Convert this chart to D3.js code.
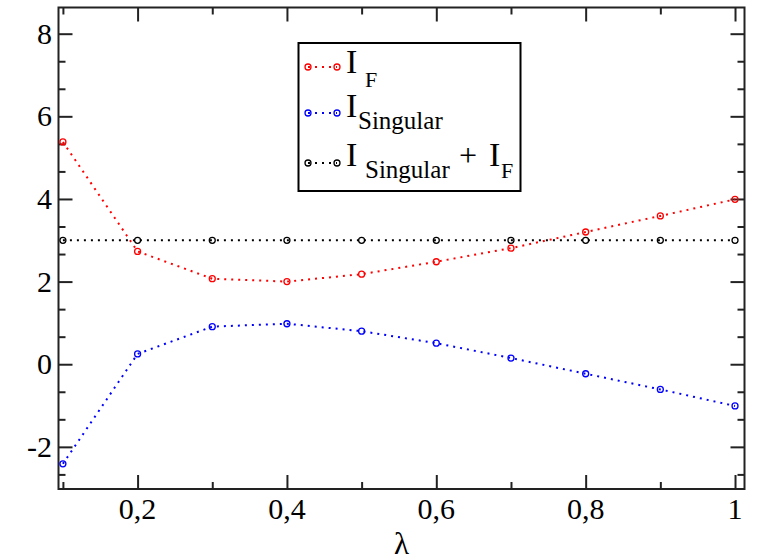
<!DOCTYPE html>
<html>
<head>
<meta charset="utf-8">
<script src="https://cdn.jsdelivr.net/npm/d3@7"></script>
<style>
  body { margin: 0; background: #fff; }
</style>
</head>
<body>
<script>
  // values
  let lambda = [0.1, 0.2, 0.3, 0.4, 0.5, 0.6, 0.7, 0.8, 0.9, 1.0];
  let iF = [5.38, 2.73, 2.07, 2.0, 2.18, 2.48, 2.81, 3.2, 3.59, 3.99];
  let iSingular = [-2.41, 0.25, 0.91, 0.98, 0.8, 0.51, 0.15, -0.23, -0.61, -1.01];
  let iSum = [3, 3, 3, 3, 3, 3, 3, 3, 3, 3];

  let xMajor = [0.2, 0.4, 0.6, 0.8, 1.0];
  let xMinor = [0.1, 0.3, 0.5, 0.7, 0.9];
  let yMajor = [-2, 0, 2, 4, 6, 8];

  let width = 761;
  let height = 560;
  let padL = 58.5, padR = 744.5, padT = 7.5, padB = 489;
  let serif = "'Liberation Serif', serif";

  let x = d3.scaleLinear([0.0941, 1.0127], [padL, padR]);
  let y = d3.scaleLinear([-3.02, 8.634], [padB, padT]);

  // minor y ticks split each major step in three
  let yMinor = [];
  yMajor.concat([10]).forEach(v => {
    [v - 4/3, v - 2/3].forEach(m => {
      if (m > y.domain()[0] && m < y.domain()[1]) yMinor.push(m);
    });
  });

  let svg = d3.select("body")
    .append("svg")
    .attr("width", width)
    .attr("height", height)
    .style("font-family", serif);

  let major = 14, minor = 7;

  function ticks(axis, vals, size) {
    return axis.tickValues(vals).tickSizeInner(-size).tickSizeOuter(0).tickFormat("");
  }

  let axes = [
    [d3.axisBottom, "translate(0," + padB + ")", x],
    [d3.axisTop, "translate(0," + padT + ")", x],
    [d3.axisLeft, "translate(" + padL + ",0)", y],
    [d3.axisRight, "translate(" + padR + ",0)", y]
  ];
  axes.forEach(([fn, tr, sc]) => {
    let isX = sc === x;
    [[isX ? xMajor : yMajor, major], [isX ? xMinor : yMinor, minor]].forEach(([vals, size]) => {
      let g = svg.append("g")
        .attr("transform", tr)
        .call(ticks(fn(sc), vals, size));
      g.select(".domain").remove();
      g.selectAll("line").attr("stroke", "#222").attr("stroke-width", 2);
    });
  });

  // frame
  svg.append("rect")
    .attr("x", padL).attr("y", padT)
    .attr("width", padR - padL).attr("height", padB - padT)
    .attr("fill", "none").attr("stroke", "#222").attr("stroke-width", 2);

  // tick labels
  svg.selectAll(".xl")
    .data(xMajor)
    .enter()
    .append("text")
    .style("font-family", serif)
    .attr("x", d => x(d))
    .attr("y", 519)
    .attr("text-anchor", "middle")
    .attr("font-size", 30)
    .text(d => d === 1 ? "1" : String(d).replace(".", ","));

  svg.selectAll(".yl")
    .data(yMajor)
    .enter()
    .append("text")
    .style("font-family", serif)
    .attr("x", 52)
    .attr("y", d => y(d) + 10)
    .attr("text-anchor", "end")
    .attr("font-size", 30)
    .text(d => String(d));

  svg.append("text")
    .style("font-family", serif)
    .attr("x", (padL + padR) / 2)
    .attr("y", 554)
    .attr("text-anchor", "middle")
    .attr("font-size", 31)
    .text("λ");

  // series
  let series = [
    { vals: iF, color: "#ff0000" },
    { vals: iSingular, color: "#0000ff" },
    { vals: iSum, color: "#000000" }
  ];

  let line = d3.line()
    .x((d, i) => x(lambda[i]))
    .y(d => y(d));

  series.forEach(s => {
    svg.append("path")
      .attr("d", line(s.vals))
      .attr("fill", "none")
      .attr("stroke", s.color)
      .attr("stroke-width", 2)
      .attr("stroke-dasharray", "2,5");
    svg.selectAll(null)
      .data(s.vals)
      .enter()
      .append("circle")
      .attr("cx", (d, i) => x(lambda[i]))
      .attr("cy", d => y(d))
      .attr("r", 3)
      .attr("fill", "none")
      .attr("stroke", s.color)
      .attr("stroke-width", 1.3);
  });

  // legend
  let lg = svg.append("g");
  lg.append("rect")
    .attr("x", 298.5).attr("y", 43)
    .attr("width", 222).attr("height", 148)
    .attr("fill", "#fff").attr("stroke", "#000").attr("stroke-width", 2);

  let rows = [67, 113, 163];
  series.forEach((s, i) => {
    lg.append("line")
      .attr("x1", 308).attr("x2", 337)
      .attr("y1", rows[i]).attr("y2", rows[i])
      .attr("stroke", s.color).attr("stroke-width", 2)
      .attr("stroke-dasharray", "2,5");
    [308, 337].forEach(cx => {
      lg.append("circle")
        .attr("cx", cx).attr("cy", rows[i]).attr("r", 3)
        .attr("fill", "none").attr("stroke", s.color).attr("stroke-width", 1.3);
    });
  });

  let t1 = lg.append("text").style("font-family", serif).attr("x", 346).attr("y", 73).attr("font-size", 34);
  t1.append("tspan").text("I");
  t1.append("tspan").attr("x", 365).attr("y", 87).attr("font-size", 22).text("F");

  let t2 = lg.append("text").style("font-family", serif).attr("x", 346).attr("y", 117).attr("font-size", 34);
  t2.append("tspan").text("I");
  t2.append("tspan").attr("x", 358).attr("y", 129).attr("font-size", 25).text("Singular");

  let t3 = lg.append("text").style("font-family", serif).attr("x", 346).attr("y", 166).attr("font-size", 34);
  t3.append("tspan").text("I");
  t3.append("tspan").attr("x", 365).attr("y", 178).attr("font-size", 25).text("Singular");
  t3.append("tspan").attr("x", 459).attr("y", 166).attr("font-size", 32).text("+");
  t3.append("tspan").attr("x", 489).attr("y", 166).attr("font-size", 34).text("I");
  t3.append("tspan").attr("x", 501).attr("y", 178).attr("font-size", 22).text("F");
</script>
</body>
</html>
